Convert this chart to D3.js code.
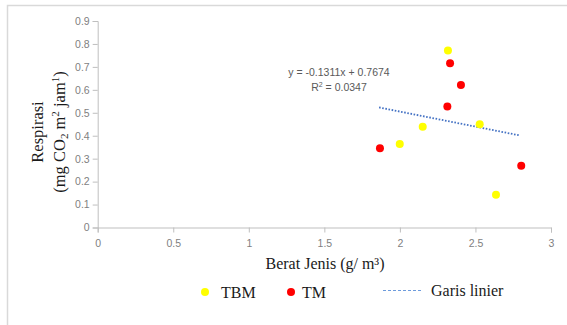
<!DOCTYPE html>
<html><head><meta charset="utf-8">
<script src="https://cdn.jsdelivr.net/npm/d3@7"></script>
<style>body{margin:0;background:#fff}svg{display:block}</style>
</head><body>
<svg id="c" width="567" height="325"></svg>
<script>
const tbmX = [2.318, 2.528, 2.151, 1.999, 2.636];
const tbmY = [0.771, 0.450, 0.439, 0.364, 0.143];
const tmX = [2.332, 2.404, 2.314, 1.868, 2.803];
const tmY = [0.716, 0.621, 0.527, 0.345, 0.269];
const slope = -0.1311, intercept = 0.7674, r2 = 0.0347;
const trendX = [1.862, 2.79];
const xTicks = [0, 0.5, 1, 1.5, 2, 2.5, 3];
const yTicks = [0, 0.1, 0.2, 0.3, 0.4, 0.5, 0.6, 0.7, 0.8, 0.9];
const legendLabels = ["TBM", "TM", "Garis linier"];

const svg = d3.select("#c");
// frame
svg.append("rect").attr("x",7.5).attr("y",5.5).attr("width",600).attr("height",400)
  .attr("fill","none").attr("stroke","#d9d9d9").attr("stroke-width",1.5);

const x = d3.scaleLinear().domain([0,3]).range([97.7,551]);
const y = d3.scaleLinear().domain([0,0.9]).range([227.5,21]);
const axisColor = "#bfbfbf";
const tickFont = "'Liberation Sans', Arial, sans-serif";

const gx = svg.append("g").attr("transform",`translate(0,${y(0)})`)
  .call(d3.axisBottom(x).tickValues(xTicks).tickSizeOuter(0).tickSize(5).tickFormat(d3.format("")));
const gy = svg.append("g").attr("transform",`translate(${x(0)},0)`)
  .call(d3.axisLeft(y).tickValues(yTicks).tickSizeOuter(0).tickSize(5).tickFormat(d3.format("")));
[gx,gy].forEach(g=>{
  g.select(".domain").attr("stroke",axisColor);
  g.selectAll(".tick line").attr("stroke",axisColor);
  g.selectAll(".tick text").attr("fill","#7f7f7f").attr("font-size","10.5px").attr("font-family",tickFont);
});
gx.selectAll(".tick text").attr("dy","1.1em");

// trendline
svg.append("line")
  .attr("x1",x(trendX[0])).attr("y1",y(slope*trendX[0]+intercept))
  .attr("x2",x(trendX[1])).attr("y2",y(slope*trendX[1]+intercept))
  .attr("stroke","#4472c4").attr("stroke-width",1.8).attr("stroke-dasharray","1.6,1.6");

// points
const tbm = tbmX.map((v,i)=>[v,tbmY[i]]);
const tm = tmX.map((v,i)=>[v,tmY[i]]);
svg.append("g").selectAll("circle").data(tbm).join("circle")
  .attr("cx",d=>x(d[0])).attr("cy",d=>y(d[1])).attr("r",4).attr("fill","#ffff00");
svg.append("g").selectAll("circle").data(tm).join("circle")
  .attr("cx",d=>x(d[0])).attr("cy",d=>y(d[1])).attr("r",4).attr("fill","#ff0000");

// equation
const eq = svg.append("text").attr("x",339).attr("y",76).attr("text-anchor","middle")
  .attr("font-family",tickFont).attr("font-size","10.5px").attr("fill","#595959");
eq.append("tspan").attr("x",339).text(`y = ${slope}x + ${intercept}`);
const r = eq.append("tspan").attr("x",339).attr("dy","15");
r.append("tspan").text("R");
r.append("tspan").attr("dy","-4").attr("font-size","7px").text("2");
r.append("tspan").attr("dy","4").text(` = ${r2}`);

const serif = "'Liberation Serif', 'Times New Roman', serif";
// x title
svg.append("text").attr("x",325).attr("y",269).attr("text-anchor","middle")
  .attr("font-family",serif).attr("font-size","16px").attr("fill","#1a1a1a")
  .text("Berat Jenis (g/ m³)");
// y title
const yg = svg.append("g").attr("transform","translate(0,132) rotate(-90)");
yg.append("text").attr("x",0).attr("y",43).attr("text-anchor","middle")
  .attr("font-family",serif).attr("font-size","16.5px").attr("fill","#1a1a1a").text("Respirasi");
const l2 = yg.append("text").attr("x",0).attr("y",65).attr("text-anchor","middle")
  .attr("font-family",serif).attr("font-size","16.5px").attr("fill","#1a1a1a");
l2.append("tspan").text("(mg CO");
l2.append("tspan").attr("font-size","11px").attr("dy","3").text("2");
l2.append("tspan").attr("dy","-3").text(" m");
l2.append("tspan").attr("font-size","11px").attr("dy","-6").text("2");
l2.append("tspan").attr("dy","6").text(" jam");
l2.append("tspan").attr("font-size","11px").attr("dy","-6").text("1");
l2.append("tspan").attr("dy","6").text(")");

// legend
const lg = svg.append("g").attr("font-family",serif).attr("font-size","16px").attr("fill","#1a1a1a");
lg.append("circle").attr("cx",205).attr("cy",292).attr("r",4).attr("fill","#ffff00");
lg.append("text").attr("x",221).attr("y",297.5).text(legendLabels[0]);
lg.append("circle").attr("cx",291).attr("cy",292).attr("r",4).attr("fill","#ff0000");
lg.append("text").attr("x",302).attr("y",297.5).text(legendLabels[1]);
lg.append("line").attr("x1",383).attr("x2",421).attr("y1",290.5).attr("y2",290.5)
  .attr("stroke","#6d9bdc").attr("stroke-width",1.2).attr("stroke-dasharray","3,2");
lg.append("text").attr("x",431).attr("y",295.5).text(legendLabels[2]);
</script>
</body></html>
